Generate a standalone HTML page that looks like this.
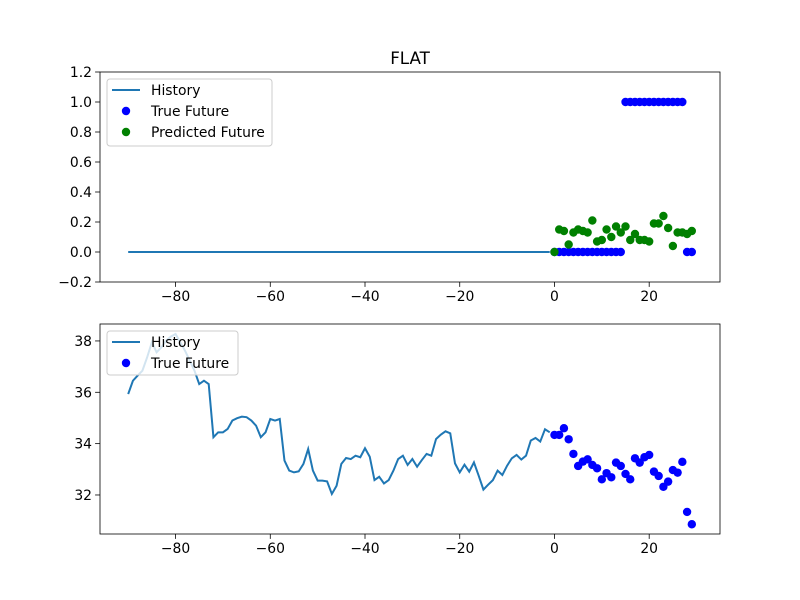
<!DOCTYPE html>
<html><head><meta charset="utf-8"><style>
body{margin:0;background:#fff}
svg{display:block;font-family:"DejaVu Sans","Liberation Sans",sans-serif}
</style></head><body>
<svg id="chart" width="800" height="600" viewBox="0 0 800 600" xmlns="http://www.w3.org/2000/svg">
<rect width="800" height="600" fill="#fff"/>
<text x="410" y="64" font-size="16.7" text-anchor="middle">FLAT</text>
<g id="top"></g><g id="bot"></g>
</svg>
<script>
const historyTop = new Array(90).fill(0);
const trueFutureTop = [0,0,0,0,0,0,0,0,0,0,0,0,0,0,0,1,1,1,1,1,1,1,1,1,1,1,1,1,0,0];
const predictedFuture = [0,0.15,0.14,0.05,0.13,0.15,0.14,0.13,0.21,0.07,0.08,0.15,0.10,0.17,0.13,0.17,0.08,0.12,0.08,0.08,0.07,0.19,0.19,0.24,0.16,0.04,0.13,0.13,0.12,0.14];
const historyBot = [35.93,36.45,36.65,36.84,37.36,37.95,37.56,37.75,38.01,38.17,38.27,37.95,37.62,37.23,36.84,36.32,36.45,36.32,34.25,34.44,34.44,34.57,34.9,34.99,35.05,35.03,34.9,34.7,34.25,34.44,34.96,34.9,34.96,33.34,32.95,32.88,32.92,33.21,33.79,32.95,32.56,32.56,
32.53,32.04,32.36,33.21,33.44,33.40,33.53,33.47,33.82,33.49,32.58,32.71,32.45,32.58,32.95,33.40,33.53,33.17,33.40,33.10,33.36,33.60,33.53,34.18,34.35,34.48,34.40,33.23,32.88,33.18,32.91,33.27,32.75,32.21,32.40,32.58,32.95,32.78,33.14,33.43,33.56,33.38,33.53,34.12,34.22,34.08,34.56,34.44];
const trueFutureBot = [34.34,34.34,34.6,34.17,33.6,33.13,33.3,33.39,33.17,33.04,32.61,32.85,32.69,33.26,33.13,32.82,32.61,33.43,33.26,33.47,33.56,32.91,32.74,32.32,32.52,32.97,32.87,33.29,31.34,30.86];
const xTicks = [-80,-60,-40,-20,0,20];
const yTicksTop = [-0.2,0.0,0.2,0.4,0.6,0.8,1.0,1.2];
const yTicksBot = [32,34,36,38];

const NS="http://www.w3.org/2000/svg";
function mk(p,t,a){const e=document.createElementNS(NS,t);for(const k in a)e.setAttribute(k,a[k]);p.appendChild(e);return e;}
const L=100,R=720,xmin=-95.95,xmax=34.95;
const X=v=>L+(v-xmin)/(xmax-xmin)*(R-L);

function panel(g,top,ymin,ymax,yt,fmt,hist,tf,pred,name){
  const bot=top+210;
  const Y=v=>bot-(v-ymin)/(ymax-ymin)*210;
  const h=hist.map((v,i)=>X(i-90).toFixed(2)+","+Y(v).toFixed(2)).join(" ");
  const pl=mk(g,"polyline",{points:h,fill:"none",stroke:"#1f77b4","stroke-width":2});
  
  
  tf.forEach((v,i)=>{const c=mk(g,"circle",{cx:X(i),cy:Y(v),r:4.2,fill:"#0000ff"});
    
    });
  if(pred) pred.forEach((v,i)=>{const c=mk(g,"circle",{cx:X(i),cy:Y(v),r:4.2,fill:"#008000"});
    
    });
  const fr=mk(g,"rect",{x:L,y:top,width:R-L,height:210,fill:"none",stroke:"#000","stroke-width":0.8});
  
  
  xTicks.forEach(t=>{mk(g,"line",{x1:X(t),x2:X(t),y1:bot,y2:bot+4.9,stroke:"#000","stroke-width":0.8});
    const tx=mk(g,"text",{x:X(t),y:bot+19,"font-size":13.9,"text-anchor":"middle"});tx.textContent=(t<0?"\u2212"+(-t):t);
    
    });
  yt.forEach(t=>{mk(g,"line",{x1:L-4.9,x2:L,y1:Y(t),y2:Y(t),stroke:"#000","stroke-width":0.8});
    const s=fmt(t);const tx=mk(g,"text",{x:L-8,y:Y(t)+5,"font-size":13.9,"text-anchor":"end"});tx.textContent=s.replace("-","\u2212");
    
    });
  const lh=pred?67:44;
  const lg=mk(g,"rect",{x:107,y:top+7,width:pred?165:131,height:lh,rx:3,fill:"#fff","fill-opacity":0.8,stroke:"#ccc","stroke-width":1});
  
  
  const ent=[["History","line","#1f77b4"],["True Future","dot","#0000ff"]];
  if(pred) ent.push(["Predicted Future","dot","#008000"]);
  ent.forEach((e,i)=>{const yy=top+18+i*21;
    if(e[1]=="line") mk(g,"line",{x1:112,x2:140,y1:yy,y2:yy,stroke:e[2],"stroke-width":2});
    else mk(g,"circle",{cx:126,cy:yy,r:4.2,fill:e[2]});
    const tx=mk(g,"text",{x:151,y:yy+5,"font-size":13.9});tx.textContent=e[0];
    
    });
}
panel(document.getElementById("top"),72,-0.2,1.2,yTicksTop,t=>t.toFixed(1),historyTop,trueFutureTop,predictedFuture,"top");
panel(document.getElementById("bot"),324,30.48,38.66,yTicksBot,t=>String(t),historyBot,trueFutureBot,null,"bottom");
</script>
</body></html>
